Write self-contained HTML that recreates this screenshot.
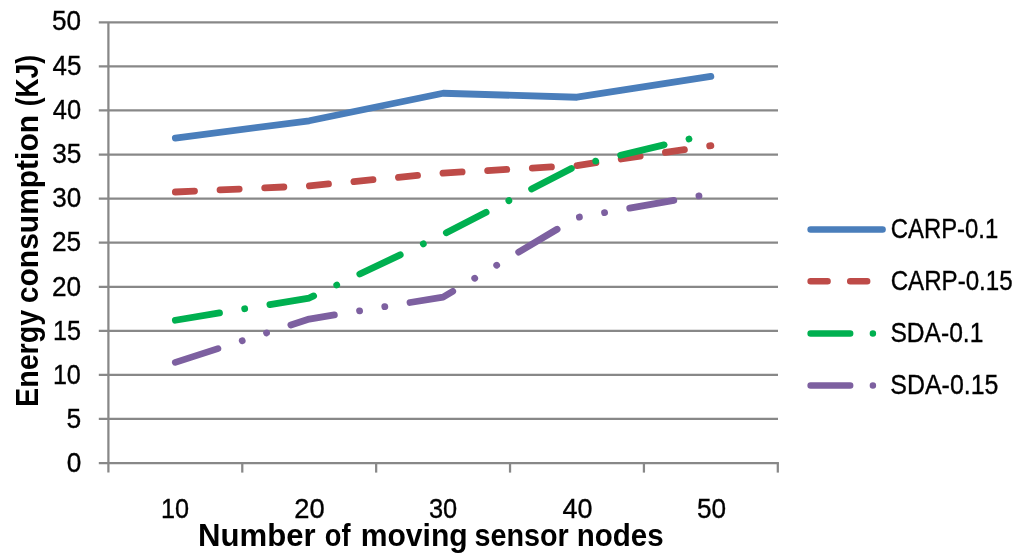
<!DOCTYPE html>
<html lang="en">
<head>
<meta charset="utf-8">
<title>Energy consumption chart</title>
<style>
html,body{margin:0;padding:0;background:#fff;}
body{width:1024px;height:560px;overflow:hidden;}
svg{display:block;}
text{font-family:"Liberation Sans",sans-serif;fill:#000;}
.tick{font-size:27.1px;stroke:#000;stroke-width:0.35px;}
.ttl{font-size:31px;font-weight:bold;}
</style>
</head>
<body>
<svg width="1024" height="560" viewBox="0 0 1024 560">
<rect width="1024" height="560" fill="#fff"/>

<g stroke="#888888" stroke-width="2.25" fill="none">
<line x1="98.8" y1="463.05" x2="778.92" y2="463.05"/>
<line x1="98.8" y1="418.98" x2="778.00" y2="418.98"/>
<line x1="98.8" y1="374.90" x2="778.00" y2="374.90"/>
<line x1="98.8" y1="330.83" x2="778.00" y2="330.83"/>
<line x1="98.8" y1="286.75" x2="778.00" y2="286.75"/>
<line x1="98.8" y1="242.68" x2="778.00" y2="242.68"/>
<line x1="98.8" y1="198.60" x2="778.00" y2="198.60"/>
<line x1="98.8" y1="154.53" x2="778.00" y2="154.53"/>
<line x1="98.8" y1="110.45" x2="778.00" y2="110.45"/>
<line x1="98.8" y1="66.38" x2="778.00" y2="66.38"/>
<line x1="98.8" y1="22.30" x2="778.00" y2="22.30"/>
<line x1="108.4" y1="22.30" x2="108.4" y2="472.6"/>
<line x1="242.28" y1="463.05" x2="242.28" y2="472.6"/>
<line x1="376.16" y1="463.05" x2="376.16" y2="472.6"/>
<line x1="510.04" y1="463.05" x2="510.04" y2="472.6"/>
<line x1="643.92" y1="463.05" x2="643.92" y2="472.6"/>
<line x1="777.80" y1="463.05" x2="777.80" y2="472.6"/>
</g>
<g fill="none" stroke-width="6.8" stroke-linecap="round" stroke-linejoin="round">
<polyline points="175.34,138.13 309.22,120.76 443.10,93.26 576.98,97.23 710.86,76.42" stroke="#4A7EBB"/>
<polyline points="175.34,191.99 309.22,185.82 443.10,173.04 576.98,165.54 710.86,145.71" stroke="#BE4B48" stroke-dasharray="19.17 25.56"/>
<polyline points="175.34,320.25 309.22,298.03 443.10,234.48 576.98,165.54 710.86,133.81" stroke="#00B050" stroke-dasharray="44.73 25.56 0.01 25.56"/>
<polyline points="175.34,362.38 309.22,319.10 443.10,297.06 576.98,217.46 710.86,193.75" stroke="#7D60A0" stroke-dasharray="44.73 25.56 0.01 25.56 0.01 25.56"/>
</g>
<g fill="none" stroke-width="6.45" stroke-linecap="round">
<line x1="810.6" y1="229.4" x2="882.6" y2="229.4" stroke="#4A7EBB"/>
<line x1="810.6" y1="281.3" x2="882.6" y2="281.3" stroke="#BE4B48" stroke-dasharray="17 22.6"/>
<line x1="810.6" y1="333.5" x2="882.6" y2="333.5" stroke="#00B050" stroke-dasharray="39.6 22.7 0.01 100"/>
<line x1="810.6" y1="385.5" x2="882.6" y2="385.5" stroke="#7D60A0" stroke-dasharray="39.6 22.7 0.01 100"/>
</g>
<g>
<text class="tick" x="66.74" y="472.35" textLength="14.57" lengthAdjust="spacingAndGlyphs">0</text>
<text class="tick" x="66.44" y="428.15" textLength="14.66" lengthAdjust="spacingAndGlyphs">5</text>
<text class="tick" x="52.89" y="383.95" textLength="27.97" lengthAdjust="spacingAndGlyphs">10</text>
<text class="tick" x="53.12" y="339.75" textLength="28.00" lengthAdjust="spacingAndGlyphs">15</text>
<text class="tick" x="51.99" y="295.55" textLength="29.13" lengthAdjust="spacingAndGlyphs">20</text>
<text class="tick" x="52.05" y="251.35" textLength="29.14" lengthAdjust="spacingAndGlyphs">25</text>
<text class="tick" x="52.25" y="207.15" textLength="28.93" lengthAdjust="spacingAndGlyphs">30</text>
<text class="tick" x="52.24" y="162.95" textLength="29.13" lengthAdjust="spacingAndGlyphs">35</text>
<text class="tick" x="52.79" y="118.75" textLength="28.30" lengthAdjust="spacingAndGlyphs">40</text>
<text class="tick" x="52.62" y="74.55" textLength="28.79" lengthAdjust="spacingAndGlyphs">45</text>
<text class="tick" x="51.94" y="30.35" textLength="29.01" lengthAdjust="spacingAndGlyphs">50</text>
<text class="tick" x="160.90" y="517.60" textLength="28.07" lengthAdjust="spacingAndGlyphs">10</text>
<text class="tick" x="294.20" y="517.60" textLength="30.38" lengthAdjust="spacingAndGlyphs">20</text>
<text class="tick" x="428.92" y="517.60" textLength="28.27" lengthAdjust="spacingAndGlyphs">30</text>
<text class="tick" x="562.49" y="517.60" textLength="29.92" lengthAdjust="spacingAndGlyphs">40</text>
<text class="tick" x="696.89" y="517.60" textLength="29.10" lengthAdjust="spacingAndGlyphs">50</text>
<text class="tick" x="890.77" y="237.70" textLength="107.42" lengthAdjust="spacingAndGlyphs">CARP-0.1</text>
<text class="tick" x="890.65" y="289.60" textLength="121.98" lengthAdjust="spacingAndGlyphs">CARP-0.15</text>
<text class="tick" x="890.41" y="341.80" textLength="92.98" lengthAdjust="spacingAndGlyphs">SDA-0.1</text>
<text class="tick" x="890.35" y="393.80" textLength="108.08" lengthAdjust="spacingAndGlyphs">SDA-0.15</text>
<text class="ttl" y="545.60"><tspan x="198.11" textLength="117.64" lengthAdjust="spacingAndGlyphs">Number</tspan> <tspan x="324.87" textLength="25.71" lengthAdjust="spacingAndGlyphs">of</tspan> <tspan x="360.71" textLength="106.97" lengthAdjust="spacingAndGlyphs">moving</tspan> <tspan x="474.38" textLength="94.37" lengthAdjust="spacingAndGlyphs">sensor</tspan> <tspan x="576.71" textLength="86.92" lengthAdjust="spacingAndGlyphs">nodes</tspan></text>
<text class="ttl" transform="rotate(-90)" y="38.00"><tspan x="-406.94" textLength="97.16" lengthAdjust="spacingAndGlyphs">Energy</tspan> <tspan x="-303.16" textLength="188.24" lengthAdjust="spacingAndGlyphs">consumption</tspan> <tspan x="-106.31" textLength="51.45" lengthAdjust="spacingAndGlyphs">(KJ)</tspan></text>
</g>
</svg>
</body>
</html>
